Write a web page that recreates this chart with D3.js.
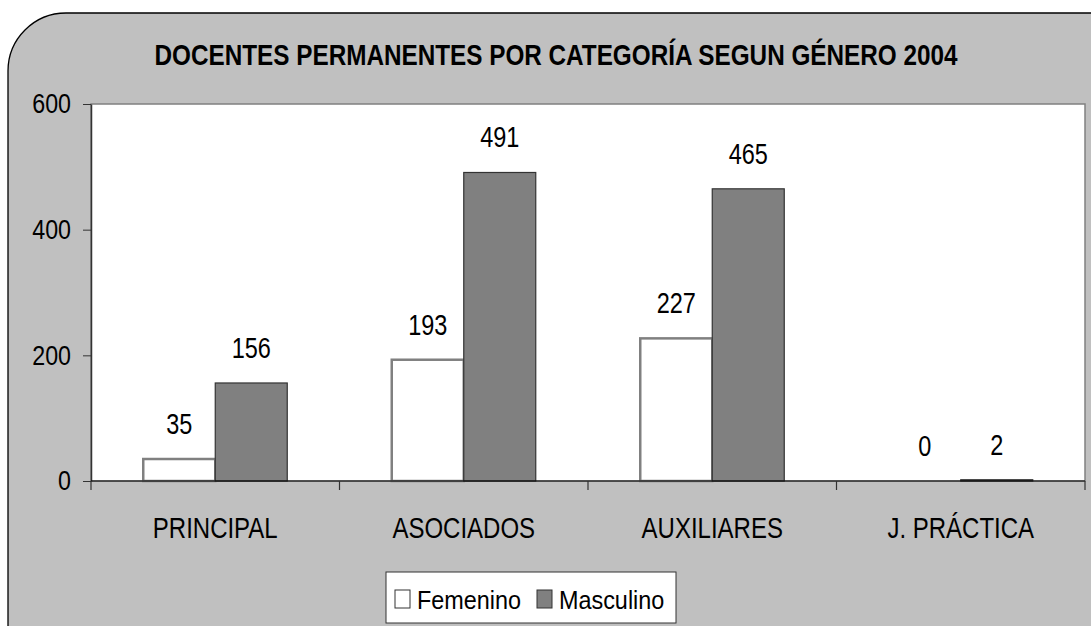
<!DOCTYPE html>
<html>
<head>
<meta charset="utf-8">
<script src="https://cdn.jsdelivr.net/npm/d3@7"></script>
<style>
  body { margin: 0; background: #fff; }
  text { font-family: "Liberation Sans", Arial, sans-serif; }
</style>
</head>
<body>
<div id="chart"></div>
<script>
const categories = ["PRINCIPAL", "ASOCIADOS", "AUXILIARES", "J. PRÁCTICA"];
const series = ["Femenino", "Masculino"];
const femenino = [35, 193, 227, 0];
const masculino = [156, 491, 465, 2];
const yTicks = [0, 200, 400, 600];

const width = 1091, height = 626;
const margin = { top: 104, right: 6, bottom: 145, left: 91 };
const innerW = width - margin.left - margin.right;
const innerH = height - margin.top - margin.bottom;
const squeeze = 0.81; // no Arial Narrow here, so squash Liberation Sans sideways

const svg = d3.select("#chart").append("svg")
  .attr("width", width)
  .attr("height", height);

// rounded gray frame (runs off the right and bottom edges)
svg.append("rect")
  .attr("x", 8).attr("y", 13)
  .attr("width", 1140).attr("height", 680)
  .attr("rx", 58).attr("ry", 58)
  .attr("fill", "#c0c0c0")
  .attr("stroke", "#000")
  .attr("stroke-width", 1.3);

svg.append("text")
  .attr("transform", `translate(556,65) scale(${squeeze},1)`)
  .attr("text-anchor", "middle")
  .style("font-size", "30px")
  .style("font-weight", "bold")
  .text("DOCENTES PERMANENTES POR CATEGORÍA SEGUN GÉNERO 2004");

const g = svg.append("g")
  .attr("transform", `translate(${margin.left},${margin.top})`);

const x0 = d3.scaleBand().domain(categories).range([0, innerW]);
const x1 = d3.scaleBand().domain(series).range([0, 144]);
const y = d3.scaleLinear().domain([0, 600]).range([innerH, 0]);

// plot area
g.append("rect")
  .attr("width", innerW).attr("height", innerH)
  .attr("fill", "#fff")
  .attr("stroke", "#808080")
  .attr("stroke-width", 1.5);

const data = categories.map((c, i) => ({ cat: c, values: [femenino[i], masculino[i]] }));

const groups = g.selectAll(".grp").data(data).enter().append("g")
  .attr("transform", d => `translate(${x0(d.cat) + (x0.bandwidth() - 144) / 2},0)`);

groups.selectAll("rect").data(d => d.values.map((v, j) => ({ s: series[j], v })))
  .enter().append("rect")
  .attr("x", d => x1(d.s))
  .attr("y", d => y(d.v))
  .attr("width", x1.bandwidth())
  .attr("height", d => innerH - y(d.v))
  .attr("fill", d => d.s === "Femenino" ? "#fff" : "#808080")
  .attr("stroke", d => d.s === "Femenino" ? "#808080" : "#333")
  .attr("stroke-width", d => d.s === "Femenino" ? 2.5 : 1.2)
  .style("display", d => d.v === 0 ? "none" : null);

groups.selectAll(".val").data(d => d.values.map((v, j) => ({ s: series[j], v })))
  .enter().append("text")
  .attr("transform", d => `translate(${x1(d.s) + x1.bandwidth() / 2},${y(d.v) - 25}) scale(${squeeze},1)`)
  .attr("text-anchor", "middle")
  .style("font-size", "29px")
  .text(d => d.v);

// axes
const yAxis = g.append("g").call(d3.axisLeft(y).tickValues(yTicks).tickSize(8).tickSizeOuter(0));
yAxis.select(".domain").attr("stroke", "#333").attr("stroke-width", 1.5);
yAxis.selectAll(".tick line").attr("stroke", "#333");
yAxis.selectAll(".tick text")
  .attr("x", 0)
  .attr("transform", `translate(-20,0) scale(0.83,1)`)
  .style("font-size", "28px").attr("fill", "#000");

const xAxis = g.append("g").attr("transform", `translate(0,${innerH})`);
xAxis.append("line").attr("x1", 0).attr("x2", innerW).attr("stroke", "#000").attr("stroke-width", 1.2);
xAxis.selectAll(".tk").data(d3.range(categories.length + 1)).enter().append("line")
  .attr("x1", i => i * x0.step()).attr("x2", i => i * x0.step())
  .attr("y1", 0).attr("y2", 9)
  .attr("stroke", "#333").attr("stroke-width", 1.2);
xAxis.selectAll(".lbl").data(categories).enter().append("text")
  .attr("transform", d => `translate(${x0(d) + x0.bandwidth() / 2},57) scale(0.8,1)`)
  .attr("text-anchor", "middle")
  .style("font-size", "30px")
  .text(d => d);

// legend
const legend = svg.append("g").attr("transform", "translate(386,572)");
legend.append("rect").attr("width", 290).attr("height", 51)
  .attr("fill", "#fff").attr("stroke", "#333").attr("stroke-width", 1);
const items = [
  { name: "Femenino", fill: "#fff", x: 9 },
  { name: "Masculino", fill: "#808080", x: 151 }
];
items.forEach(it => {
  legend.append("rect").attr("x", it.x).attr("y", 18).attr("width", 15).attr("height", 18)
    .attr("fill", it.fill).attr("stroke", "#333").attr("stroke-width", 1);
  legend.append("text")
    .attr("transform", `translate(${it.x + 22},37) scale(0.9,1)`)
    .style("font-size", "26px").text(it.name);
});
</script>
</body>
</html>
